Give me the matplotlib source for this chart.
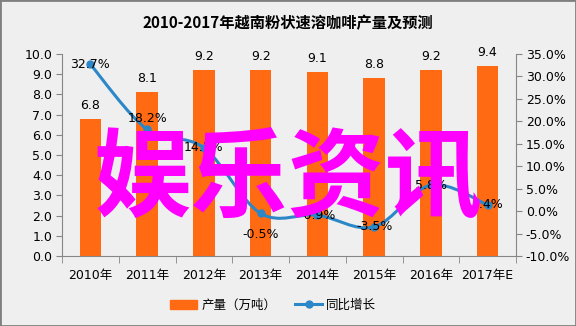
import numpy as np
import matplotlib
matplotlib.use("Agg")
import matplotlib.pyplot as plt
from matplotlib.path import Path
from matplotlib.patches import PathPatch, Rectangle
from matplotlib.lines import Line2D

plt.rcParams['font.family'] = ['DejaVu Sans', 'Noto Sans CJK SC']

# data
years = ['2010年', '2011年', '2012年', '2013年', '2014年', '2015年', '2016年', '2017年E']
output = [6.8, 8.1, 9.2, 9.2, 9.1, 8.8, 9.2, 9.4]          # 万吨
growth = [32.7, 18.2, 14.1, -0.5, -0.9, -3.5, 5.8, 1.4]     # %
growth_dy = [0, 8, 0, -15, 0, 0, 0, 0]   # label nudges in points

bar_color = '#FF6A13'
line_color = '#2C87C8'
axis_color = '#868686'
bg = '#EFEFEF'

fig = plt.figure(figsize=(5.76, 3.26), dpi=100, facecolor=bg)
ax = fig.add_axes([62/576, 1-256/326, (516-62)/576, (256-54)/326])
ax.set_facecolor(bg)
x = np.arange(len(years))

bars = ax.bar(x, output, width=0.38, color=bar_color, zorder=2)
for xi, v in zip(x, output):
    ax.annotate(f'{v:.1f}', (xi, v), xytext=(0, 5), textcoords='offset points',
                ha='center', va='bottom', fontsize=9)

ax.set_ylim(0, 10)
ax.set_yticks(np.arange(0, 10.1, 1))
ax.set_yticklabels([f'{v:.1f}' for v in np.arange(0, 10.1, 1)])
ax.set_xlim(-0.5, len(years) - 0.5)
ax.set_xticks(x)
ax.set_xticklabels(years)
ax.set_xticks(np.arange(-0.5, len(years), 1), minor=True)
ax.tick_params(axis='x', which='major', length=0, pad=9, labelsize=9)
ax.tick_params(axis='x', which='minor', length=5, color=axis_color)
ax.tick_params(axis='y', length=4, color=axis_color, labelsize=9, pad=3)
for s in ['top', 'right']:
    ax.spines[s].set_visible(False)
for s in ['left', 'bottom']:
    ax.spines[s].set_color(axis_color)

ax2 = ax.twinx()
ax2.set_ylim(-10, 35)
yt = np.arange(-10, 35.1, 5)
ax2.set_yticks(yt)
ax2.set_yticklabels([f'{v:.1f}%' for v in yt])
ax2.tick_params(axis='y', length=4, color=axis_color, labelsize=9, pad=3)
for s in ['top', 'left', 'bottom']:
    ax2.spines[s].set_visible(False)
ax2.spines['right'].set_color(axis_color)

# smoothed growth line (bezier through the points)
pts = np.column_stack([x, growth]).astype(float)
verts = [pts[0]]
codes = [Path.MOVETO]
for i in range(len(pts) - 1):
    p0 = pts[i - 1] if i > 0 else pts[i]
    p1, p2 = pts[i], pts[i + 1]
    p3 = pts[i + 2] if i + 2 < len(pts) else pts[i + 1]
    c1 = p1 + (p2 - p0) / 6
    c2 = p2 - (p3 - p1) / 6
    verts += [c1, c2, p2]
    codes += [Path.CURVE4] * 3
ax2.add_patch(PathPatch(Path(verts, codes), fill=False, edgecolor=line_color, lw=2.2, zorder=3))
ax2.plot(x, growth, 'o', color=line_color, ms=5, zorder=4)
for xi, g, dy in zip(x, growth, growth_dy):
    ax2.annotate(f'{g:.1f}%', (xi, g), xytext=(0, dy), textcoords='offset points',
                 ha='center', va='center', fontsize=9, zorder=5)

fig.text(0.5, 1-23/326, '2010-2017年越南粉状速溶咖啡产量及预测', ha='center', va='center',
         fontsize=11, fontweight='bold', family=['Noto Sans CJK SC'])

handles = [Rectangle((0, 0), 1, 1, color=bar_color),
           Line2D([], [], color=line_color, lw=2.2, marker='o', ms=5)]
fig.legend(handles, ['产量（万吨）', '同比增长'], loc='center', bbox_to_anchor=(273/576, 1-305/326),
           ncol=2, frameon=False, handlelength=2.2, columnspacing=1.5,
           handletextpad=0.3, prop={'family': ['Noto Sans CJK SC'], 'size': 9})

# big magenta overlay text
fig.text(288/576, 1-180/326, '娱乐资讯', ha='center', va='center', fontsize=70,
         fontweight='bold', color='#FF00FF', family=['Noto Sans CJK SC'], zorder=10)

fig.patches.append(Rectangle((0, 0), 1, 1, transform=fig.transFigure, fill=False,
                             edgecolor='#7F7F7F', lw=2))

fig.savefig('out.png', dpi=100, facecolor=bg)
